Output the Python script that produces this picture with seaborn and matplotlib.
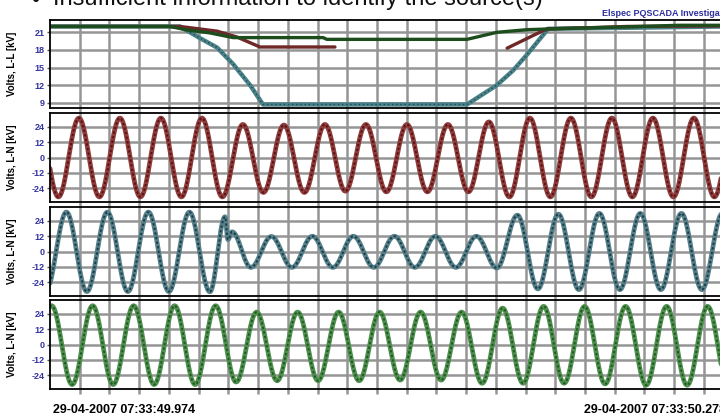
import numpy as np
import pandas as pd
import matplotlib
matplotlib.use("Agg")
import matplotlib.pyplot as plt
import seaborn as sns

# ---------------- data (time in ms from the window start) ----------------
# RMS line-to-line voltages, kV
ll_green_t = [0, 58.5, 66.8, 78.0, 89.3, 133.2, 135.1, 203.4, 218.0, 232.7, 245.4, 278.0, 307.3, 330.0]
ll_green_v = [22.0, 22.0, 21.4, 20.9, 20.1, 20.1, 19.8, 19.8, 21.0, 21.45, 21.6, 21.9, 22.2, 22.2]
ll_maroon_t1 = [0, 63.4, 81.5, 91.2, 102.4, 139.0]
ll_maroon_v1 = [22.0, 22.0, 21.2, 20.2, 18.5, 18.5]
ll_maroon_t2 = [223.0, 242.4, 265.0, 281.5, 330.0]
ll_maroon_v2 = [18.3, 21.6, 21.8, 22.0, 22.1]
ll_teal_t = [0, 63.4, 73.2, 81.5, 89.3, 97.6, 103.9, 203.4, 218.0, 225.9, 232.7, 243.0, 330.0]
ll_teal_v = [22.0, 22.0, 20.0, 18.4, 15.6, 12.0, 8.7, 8.7, 12.0, 14.5, 17.2, 21.6, 22.0]

# Line-to-neutral waveforms: successive half-cycle extremes (kV),
# the first one at the given time, then every half period.
HALF_PERIOD = 10.0
red_first = -5.9
red_ext = [31, -31, 31, -31, 31, -31, 31, -31, 31, -31,
           26, -27.5, 25.5, -27.5, 26, -26.5, 26, -27, 26, -27,
           26, -27, 28, -31, 31, -31, 31, -31, 31, -31,
           31, -31, 31, -31, 31]
teal_first = -2.0
teal_ext = [-31, 31, -31.5, 31, -31.5, 31, -31.5, 31, -31.7, 27,
            -12.5, 11.8, -12.5, 12, -12.5, 12, -12.5, 12, -12.5, 12,
            -12.5, 12, -13, 28.6, -29.4, 29.4, -30, 30, -30, 30,
            -30, 30, -30, 30, -30]
# fault inception transient on the teal phase
teal_spike_t = [85.4, 86.8, 88.8]
teal_spike_v = [27.3, 9.3, 15.5]
green_first = 0.8
green_ext = [30.5, -31.5, 30.5, -31.5, 30.5, -31.5, 30.5, -31.5, 30.5, -29.5,
             25.5, -28.5, 25.5, -28.5, 25.5, -28.5, 25.5, -28, 25.5, -28,
             25.5, -30.5, 28.6, -30.5, 30, -30.5, 30, -31, 30, -32,
             30, -32, 30, -32]

ll_ticks = [9, 12, 15, 18, 21]
ln_ticks = [-24, -12, 0, 12, 24]
start_label = "29-04-2007 07:33:49.974"
end_label = "29-04-2007 07:33:50.278"
title_text = "Insufficient information to identify the source(s)"
brand_text = "Elspec PQSCADA Investigator"

T_MAX = 328.3
GRID_STEP = 14.5


def waveform(first, ext, extra_t=(), extra_v=()):
    kt = first + HALF_PERIOD * np.arange(len(ext))
    kv = np.asarray(ext, dtype=float)
    if len(extra_t):
        keep = np.ones(len(kt), bool)
        for et in extra_t:
            keep &= np.abs(kt - et) > 1.5
        kt = np.concatenate([kt[keep], extra_t])
        kv = np.concatenate([kv[keep], extra_v])
        order = np.argsort(kt)
        kt, kv = kt[order], kv[order]
    t = np.arange(0, T_MAX + 2, 0.1)
    idx = np.clip(np.searchsorted(kt, t) - 1, 0, len(kt) - 2)
    u = (t - kt[idx]) / (kt[idx + 1] - kt[idx])
    v = kv[idx] + (kv[idx + 1] - kv[idx]) * (1 - np.cos(np.pi * u)) / 2
    return pd.DataFrame({"t": t, "v": v})


sns.set_theme(style="white")
plt.rcParams["font.family"] = ["Liberation Sans", "DejaVu Sans"]

fig = plt.figure(figsize=(7.2, 4.16), dpi=100)
W, H = 720.0, 416.0
left, right = 50, 723
panels = [(20, 108), (113, 202), (207, 296), (300, 389)]
axes = [fig.add_axes([left / W, (H - b) / H, (right - left) / W, (b - t) / H]) for t, b in panels]

grid_c = "#959595"
tick_c = "#3434a0"

for i, ax in enumerate(axes):
    ax.set_xlim(0, T_MAX)
    ax.set_xticks(np.arange(GRID_STEP, T_MAX, GRID_STEP))
    ax.set_xticklabels([])
    if i == 0:
        ax.set_ylim(8.1, 23.1)
        ax.set_yticks(ll_ticks)
        ylab = "Volts, L-L [kV]"
    else:
        ax.set_ylim(-35, 35)
        ax.set_yticks(ln_ticks)
        ylab = "Volts, L-N [kV]"
    ax.set_yticklabels([str(v) for v in ax.get_yticks().astype(int)],
                       fontsize=6.5, fontweight="bold", color=tick_c)
    ax.grid(True, color=grid_c, linewidth=1.8)
    ax.set_axisbelow(True)
    ax.tick_params(axis="y", direction="out", length=2.5, width=1, color="#555555", pad=1.5, left=True)
    ax.tick_params(axis="x", direction="out", length=3.5, width=1.8, color=grid_c, bottom=True)
    for s in ax.spines.values():
        s.set_color("black")
        s.set_linewidth(1.3)
    ax.spines["right"].set_visible(False)
    ax.set_facecolor("white")
    ax._ylab = ylab

# panel 1: RMS line-to-line
ax = axes[0]
df_teal = pd.DataFrame({"t": ll_teal_t, "v": ll_teal_v})
df_mar = pd.concat([pd.DataFrame({"t": ll_maroon_t1, "v": ll_maroon_v1, "seg": 0}),
                    pd.DataFrame({"t": ll_maroon_t2, "v": ll_maroon_v2, "seg": 1})])
df_green = pd.DataFrame({"t": ll_green_t, "v": ll_green_v})
sns.lineplot(data=df_teal, x="t", y="v", ax=ax, color="#4a8288", lw=3.2, sort=False)
sns.lineplot(data=df_teal, x="t", y="v", ax=ax, color="#1f4a55", lw=1.0, ls=(0, (1, 2)), sort=False)
sns.lineplot(data=df_mar, x="t", y="v", units="seg", estimator=None, ax=ax, color="#6e2828", lw=2.4, sort=False)
sns.lineplot(data=df_green, x="t", y="v", ax=ax, color="#1d4d1d", lw=2.4, sort=False)

# panels 2-4: line-to-neutral waveforms
wave_specs = [
    (waveform(red_first, red_ext), "#8e3c3c", "#5a1212"),
    (waveform(teal_first, teal_ext, teal_spike_t, teal_spike_v), "#56808a", "#1d3c47"),
    (waveform(green_first, green_ext), "#4f8f4f", "#1f5a1f"),
]
for ax, (df, base, dark) in zip(axes[1:], wave_specs):
    sns.lineplot(data=df, x="t", y="v", ax=ax, color=base, lw=3.4, sort=False)
    sns.lineplot(data=df, x="t", y="v", ax=ax, color=dark, lw=1.4, ls=(0, (1.2, 1.2)), sort=False)

for ax in axes:
    ax.set_xlabel("")
    ax.set_ylabel(ax._ylab, fontsize=7, fontweight="bold", color="black")
    ax.yaxis.set_label_coords(-0.049, 0.5)

# texts
fig.text(53 / W, 1 - 5.5 / H, title_text, fontsize=17, color="#111111", va="baseline", ha="left")
fig.text(35 / W, 1 - 7 / H, "\u2022", fontsize=17, color="#111111", va="baseline", ha="center")
fig.text(602 / W, 1 - 16 / H, brand_text, fontsize=6.5, fontweight="bold", color="#2e2ea0",
         va="baseline", ha="left")
fig.text(53 / W, 1 - 413 / H, start_label, fontsize=9, fontweight="bold", color="black",
         va="baseline", ha="left")
fig.text(726 / W, 1 - 413 / H, end_label, fontsize=9, fontweight="bold", color="black",
         va="baseline", ha="right")

fig.savefig("out.png", dpi=100)
